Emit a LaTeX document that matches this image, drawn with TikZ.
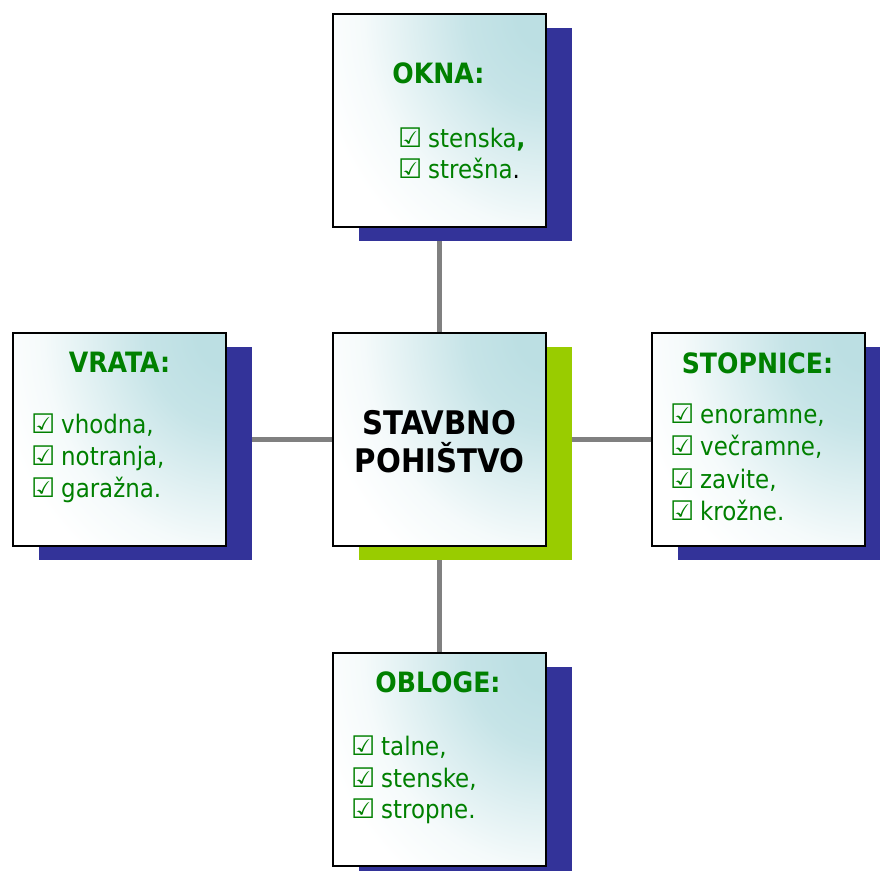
\documentclass[tikz,border=0pt]{standalone}
\usepackage{fontspec}
\setmainfont{DejaVu Sans Condensed}
\newfontfamily\symfont{DejaVu Sans}
\usetikzlibrary{shadows,backgrounds}
\definecolor{navy}{RGB}{51,51,153}
\definecolor{limeg}{RGB}{153,204,0}
\definecolor{tealc}{RGB}{188,223,227}
\definecolor{txtgreen}{RGB}{0,128,0}
\definecolor{linegray}{RGB}{128,128,128}
\pgfdeclareradialshading{boxshade}{\pgfpoint{0bp}{0bp}}{color(0bp)=(tealc); color(1.5bp)=(tealc); color(4.25bp)=(tealc!85!white); color(7bp)=(tealc!50!white); color(9.75bp)=(tealc!15!white); color(12.5bp)=(white); color(50bp)=(white)}
\newcommand{\cbx}{{\symfont\fontsize{27}{27}\selectfont ☑}}
\newcommand{\itm}[1]{\makebox[30pt][l]{\cbx}#1}
\tikzset{
  box/.style={minimum width=213pt, minimum height=213pt, inner sep=0pt,
    fill=white, draw=black, line width=2pt,
    path picture={\shade[shading=boxshade] (path picture bounding box.north east) ellipse (470pt and 550pt);},
    general shadow={fill=#1, shadow xshift=26pt, shadow yshift=-13.5pt}},
  box/.default=navy,
  ttl/.style={font=\bfseries\fontsize{28}{28}\selectfont, text=txtgreen, anchor=base, inner sep=0pt},
  ctr/.style={font=\bfseries\fontsize{32.5}{32.5}\selectfont, text=black, anchor=base, inner sep=0pt},
  itemtxt/.style={font=\fontsize{25.5}{25.5}\selectfont, text=txtgreen, anchor=base west, inner sep=0pt},
  conn/.style={draw=linegray, line width=5pt}
}
\begin{document}
\begin{tikzpicture}[x=1pt,y=-1pt]
\useasboundingbox (0,0) rectangle (880,870);
\clip (0,0) rectangle (880,870);
% boxes
\node[box] (top) at (439.5,120.5) {};
\node[box=limeg] (center) at (439.5,439.5) {};
\node[box] (left) at (119.5,439.5) {};
\node[box] (right) at (758.5,439.5) {};
\node[box] (bottom) at (439.5,759.5) {};
% connectors
\begin{scope}[on background layer]
\draw[conn] (top) -- (center);
\draw[conn] (center) -- (bottom);
\draw[conn] (left) -- (center);
\draw[conn] (center) -- (right);
\end{scope}
% center text
\node[ctr] (c1) at (439.5,434) {STAVBNO};
\node[ctr] (c2) at (439.5,472) {POHIŠTVO};
% top
\node[ttl] (t0) at (438.5,83) {OKNA:};
\node[itemtxt] (t1) at (398,147) {\itm{stenska\textbf{,}}};
\node[itemtxt] (t2) at (398,178) {\itm{strešna\textcolor{black}{.}}};
% left
\node[ttl] (l0) at (119.5,372) {VRATA:};
\node[itemtxt] (l1) at (31,433) {\itm{vhodna,}};
\node[itemtxt] (l2) at (31,465) {\itm{notranja,}};
\node[itemtxt] (l3) at (31,497) {\itm{garažna.}};
% right
\node[ttl] (r0) at (757.5,373) {STOPNICE:};
\node[itemtxt] (r1) at (670,423) {\itm{enoramne,}};
\node[itemtxt] (r2) at (670,455.5) {\itm{večramne,}};
\node[itemtxt] (r3) at (670,488) {\itm{zavite,}};
\node[itemtxt] (r4) at (670,520.5) {\itm{krožne.}};
% bottom
\node[ttl] (b0) at (438,692) {OBLOGE:};
\node[itemtxt] (b1) at (351,755) {\itm{talne,}};
\node[itemtxt] (b2) at (351,787) {\itm{stenske,}};
\node[itemtxt] (b3) at (351,818) {\itm{stropne.}};
\end{tikzpicture}
\end{document}
